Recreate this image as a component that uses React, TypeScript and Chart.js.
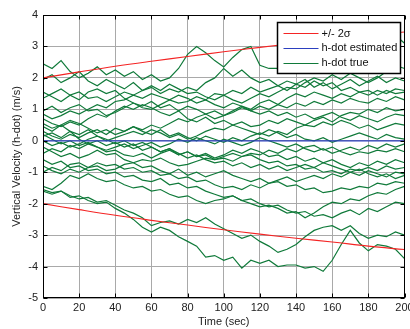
import React, { useEffect, useRef } from "react";
import { Chart, registerables } from "chart.js";

Chart.register(...registerables);

// ---- data ----
const TIME = [0,5,10,15,20,25,30,35,40,45,50,55,60,65,70,75,80,85,90,95,100,105,110,115,120,125,130,135,140,145,150,155,160,165,170,175,180,185,190,195,200];
const SIGMA_TIME = [0,20,40,60,80,100,120,140,160,180,200];
const PLUS_2SIGMA = [2.0,2.19,2.37,2.53,2.68,2.83,2.97,3.1,3.22,3.35,3.46];
const MINUS_2SIGMA = [-2.0,-2.19,-2.37,-2.53,-2.68,-2.83,-2.97,-3.1,-3.22,-3.35,-3.46];
const HDOT_ESTIMATED = [0,0,0,0,0,0,0,0,0,0,0];

const TRUE_A = [2.45,2.3,2.55,2.2,2.0,2.15,2.35,2.1,2.25,2.05,2.2,1.95,2.1,1.9,2.0,2.3,2.75,3.0,2.8,2.55,2.35,2.65,2.9,3.0,2.4,2.3,2.3,2.6,2.75,2.6,2.9,2.8,3.0,3.1,2.95,3.15,3.05,3.2,3.3,3.35,3.1];
const TRUE_B = [1.95,2.1,1.85,2.0,2.2,1.9,1.75,1.95,1.8,1.65,1.85,1.6,1.7,1.5,1.65,1.55,1.7,1.6,1.85,2.0,2.3,2.05,2.25,2.0,1.85,1.95,1.75,1.9,1.8,1.95,1.7,1.85,1.65,1.8,1.95,1.75,1.9,2.05,1.85,2.0,1.9];
const TRUE_C = [1.55,1.4,1.25,1.45,1.3,1.55,1.65,1.5,1.6,1.35,1.2,1.05,1.0,1.15,1.3,1.2,1.25,1.4,1.3,1.5,1.45,1.6,1.5,1.7,1.55,1.65,1.75,1.6,1.8,1.7,1.9,1.75,1.85,1.6,1.7,1.55,1.6,1.45,1.6,1.5,1.55];
const TRUE_D = [1.35,1.5,1.65,1.45,1.55,1.35,1.4,1.25,1.4,1.55,1.45,1.6,1.75,1.6,1.8,1.65,1.5,1.55,1.4,1.3,1.45,1.3,1.2,1.35,1.5,1.4,1.55,1.7,1.65,1.85,2.0,1.9,2.1,1.95,2.15,2.0,1.85,2.0,2.2,2.4,2.3];
const TRUE_E = [0.95,1.1,0.9,1.05,1.15,0.95,1.0,0.8,0.9,1.05,1.2,1.1,1.25,1.05,1.15,0.95,1.1,1.0,0.85,0.95,0.8,0.9,1.05,0.95,1.1,1.0,1.15,1.05,1.2,1.1,1.25,1.15,1.3,1.2,1.35,1.25,1.2,1.35,1.25,1.4,1.3];
const TRUE_F = [0.7,0.55,0.45,0.6,0.5,0.7,0.85,0.75,0.95,1.1,1.0,1.15,1.05,0.9,0.8,0.95,0.7,0.6,0.75,0.55,0.65,0.5,0.6,0.45,0.5,0.65,0.55,0.7,0.6,0.5,0.65,0.75,0.6,0.8,0.9,0.85,1.0,0.9,1.05,0.95,1.0];
const TRUE_G = [0.45,0.3,0.5,0.65,0.55,0.4,0.25,0.35,0.2,0.3,0.45,0.35,0.5,0.4,0.55,0.7,0.6,0.75,0.85,0.7,0.8,0.95,1.1,1.0,1.2,1.3,1.15,1.35,1.5,1.4,1.55,1.45,1.35,1.5,1.4,1.55,1.45,1.6,1.5,1.65,1.6];
const TRUE_H = [0.3,0.15,0.05,0.2,0.1,0.25,0.35,0.2,0.4,0.3,0.45,0.3,0.2,0.35,0.15,0.25,0.1,0.0,0.15,0.05,-0.05,0.1,0.0,0.15,0.25,0.15,0.3,0.2,0.4,0.5,0.45,0.6,0.5,0.65,0.55,0.4,0.5,0.35,0.45,0.55,0.5];
const TRUE_I = [0.15,0.25,0.1,0.3,0.05,-0.1,0.0,-0.15,-0.05,-0.2,-0.1,-0.3,-0.2,-0.35,-0.25,-0.45,-0.35,-0.5,-0.4,-0.55,-0.45,-0.3,-0.4,-0.25,-0.35,-0.5,-0.45,-0.6,-0.5,-0.65,-0.55,-0.7,-0.6,-0.75,-0.85,-0.7,-0.8,-0.65,-0.75,-0.6,-0.7];
const TRUE_J = [0.0,-0.15,-0.05,-0.2,-0.1,0.05,0.15,0.0,0.1,0.2,0.3,0.2,0.35,0.25,0.1,0.2,0.05,0.15,0.3,0.4,0.35,0.5,0.4,0.3,0.2,0.35,0.25,0.1,0.2,0.05,0.0,0.1,-0.05,0.05,0.15,0.25,0.15,0.05,0.2,0.1,0.05];
const TRUE_K = [-0.2,-0.35,-0.5,-0.4,-0.55,-0.45,-0.3,-0.45,-0.4,-0.6,-0.7,-0.85,-0.8,-0.95,-1.05,-0.9,-1.1,-1.0,-1.15,-1.05,-0.95,-1.1,-1.2,-1.3,-1.2,-1.35,-1.25,-1.15,-1.3,-1.2,-1.1,-1.2,-1.05,-1.15,-1.0,-1.1,-0.95,-1.05,-1.15,-1.0,-1.05];
const TRUE_L = [-0.4,-0.25,-0.35,-0.15,-0.25,-0.1,-0.2,-0.35,-0.3,-0.45,-0.5,-0.4,-0.55,-0.4,-0.3,-0.45,-0.35,-0.5,-0.45,-0.6,-0.55,-0.65,-0.5,-0.4,-0.45,-0.3,-0.4,-0.25,-0.35,-0.2,-0.15,-0.3,-0.2,-0.35,-0.45,-0.35,-0.4,-0.3,-0.35,-0.25,-0.35];
const TRUE_M = [-0.6,-0.75,-0.65,-0.85,-0.8,-0.95,-0.9,-1.05,-1.0,-1.15,-1.1,-1.25,-1.3,-1.2,-1.4,-1.35,-1.5,-1.45,-1.6,-1.7,-1.8,-1.75,-1.9,-1.85,-2.0,-2.1,-2.05,-2.2,-2.3,-2.25,-2.4,-2.35,-2.45,-2.3,-2.2,-2.35,-2.15,-2.25,-2.1,-1.95,-2.0];
const TRUE_N = [-0.8,-0.95,-1.05,-0.9,-1.0,-0.85,-0.7,-0.8,-0.75,-0.9,-0.85,-1.0,-0.95,-1.1,-1.05,-1.2,-1.15,-1.3,-1.25,-1.4,-1.5,-1.45,-1.55,-1.4,-1.5,-1.35,-1.3,-1.45,-1.4,-1.55,-1.5,-1.65,-1.6,-1.5,-1.55,-1.45,-1.5,-1.35,-1.4,-1.3,-1.35];
const TRUE_O = [-1.0,-0.85,-0.95,-0.75,-0.7,-0.85,-0.8,-0.95,-0.9,-0.75,-0.7,-0.6,-0.65,-0.55,-0.7,-0.8,-0.75,-0.65,-0.55,-0.6,-0.5,-0.4,-0.5,-0.45,-0.6,-0.7,-0.65,-0.8,-0.75,-0.9,-0.85,-1.0,-0.95,-1.05,-0.9,-0.95,-0.85,-0.95,-0.8,-0.9,-0.85];
const TRUE_P = [-1.55,-1.65,-1.6,-1.75,-1.85,-1.8,-1.95,-1.9,-2.05,-2.2,-2.3,-2.45,-2.7,-2.6,-2.55,-2.65,-2.5,-2.6,-2.45,-2.65,-2.8,-2.95,-3.1,-3.0,-3.2,-3.35,-3.55,-3.45,-3.3,-3.05,-2.85,-2.75,-2.7,-2.85,-2.7,-2.95,-3.1,-3.0,-3.05,-2.9,-3.0];
const TRUE_Q = [-1.6,-1.7,-1.6,-1.8,-1.75,-1.9,-2.0,-1.95,-2.15,-2.3,-2.5,-2.75,-2.9,-2.75,-2.85,-3.05,-3.2,-3.35,-3.7,-3.65,-3.8,-3.7,-4.05,-3.8,-3.9,-3.8,-4.0,-3.95,-3.95,-4.05,-4.0,-4.15,-3.8,-3.3,-2.85,-3.25,-3.5,-3.3,-3.35,-3.45,-3.75];
const TRUE_R = [-1.45,-1.55,-1.35,-1.1,-1.2,-1.05,-1.2,-1.3,-1.25,-1.4,-1.5,-1.45,-1.6,-1.55,-1.7,-1.8,-1.75,-1.9,-2.0,-1.9,-1.85,-1.75,-1.9,-2.0,-2.1,-2.05,-2.15,-2.3,-2.25,-2.45,-2.3,-2.1,-1.95,-2.0,-1.85,-1.9,-1.75,-1.65,-1.7,-1.55,-1.45];
const TRUE_S = [0.85,0.7,0.8,0.95,0.85,1.0,1.15,1.05,1.25,1.3,1.45,1.35,1.5,1.4,1.3,1.45,1.35,1.2,1.3,1.15,1.05,1.2,1.1,0.95,0.85,0.95,0.8,0.9,0.75,0.85,0.7,0.8,0.9,0.75,0.65,0.8,0.7,0.6,0.75,0.85,0.8];
const TRUE_T = [0.2,0.05,-0.1,0.0,-0.15,-0.05,-0.2,-0.3,-0.2,-0.1,-0.25,-0.15,-0.05,-0.2,-0.1,0.05,-0.05,0.1,0.0,-0.1,0.05,-0.05,-0.15,-0.05,0.1,0.0,-0.1,-0.2,-0.1,-0.25,-0.35,-0.25,-0.4,-0.3,-0.2,-0.3,-0.15,-0.25,-0.1,-0.2,-0.1];
const TRUE_U = [0.55,0.4,0.5,0.3,0.2,0.35,0.15,0.05,-0.1,0.0,-0.15,-0.05,-0.2,-0.35,-0.25,-0.4,-0.55,-0.45,-0.6,-0.7,-0.65,-0.8,-0.7,-0.85,-0.75,-0.9,-0.8,-0.95,-0.85,-0.75,-0.85,-0.7,-0.8,-0.9,-1.0,-0.9,-1.05,-1.15,-1.05,-1.2,-1.1];

const TRUE_RUNS = [TRUE_A, TRUE_B, TRUE_C, TRUE_D, TRUE_E, TRUE_F, TRUE_G, TRUE_H, TRUE_I, TRUE_J, TRUE_K, TRUE_L, TRUE_M, TRUE_N, TRUE_O, TRUE_P, TRUE_Q, TRUE_R, TRUE_S, TRUE_T, TRUE_U];

const LABEL_SIGMA = "+/- 2\u03c3";
const LABEL_EST = "h-dot estimated";
const LABEL_TRUE = "h-dot true";
const X_TITLE = "Time (sec)";
const Y_TITLE = "Vertical Velocity (h-dot) (m/s)";

const RED = "#f42424";
const BLUE = "#2b3fbf";
const GREEN = "#107a3a";
const FONT = "'Liberation Sans', Arial, Helvetica, sans-serif";

const pair = (xs: number[], ys: number[]) => xs.map((x, i) => ({ x, y: ys[i] }));

const framePlugin = {
  id: "matlabFrame",
  afterDraw(chart: any) {
    const { ctx, chartArea: a, scales } = chart;
    const L = Math.round(a.left) + 0.5;
    const R = Math.round(a.right) - 0.5;
    const T = Math.round(a.top) + 0.5;
    const B = Math.round(a.bottom) - 0.5;
    ctx.save();
    ctx.strokeStyle = "#000";
    ctx.lineWidth = 1;
    ctx.strokeRect(L, T, R - L, B - T);
    ctx.beginPath();
    scales.x.ticks.forEach((t: any) => {
      const px = Math.round(scales.x.getPixelForValue(t.value)) + 0.5;
      ctx.moveTo(px, B); ctx.lineTo(px, B - 4);
      ctx.moveTo(px, T); ctx.lineTo(px, T + 4);
    });
    scales.y.ticks.forEach((t: any) => {
      const py = Math.round(scales.y.getPixelForValue(t.value)) + 0.5;
      ctx.moveTo(L, py); ctx.lineTo(L + 4, py);
      ctx.moveTo(R, py); ctx.lineTo(R - 4, py);
    });
    ctx.stroke();

    // legend box (inside axes, top right)
    const ds = chart.data.datasets;
    const items = [ds[0], ds[2], ds[3]];
    const bw = 123, bh = 51;
    const bx = Math.round(a.right) - 127.5;
    const by = Math.round(a.top) + 7.5;
    ctx.fillStyle = "#fff";
    ctx.fillRect(bx, by, bw, bh);
    ctx.lineWidth = 1.5;
    ctx.strokeStyle = "#000";
    ctx.strokeRect(bx, by, bw, bh);
    ctx.font = `11px ${FONT}`;
    ctx.textBaseline = "middle";
    ctx.textAlign = "left";
    items.forEach((d: any, i: number) => {
      const y = by + 10.5 + i * 14.8;
      ctx.strokeStyle = d.borderColor;
      ctx.lineWidth = 1;
      ctx.beginPath();
      ctx.moveTo(bx + 6, Math.round(y) + 0.5);
      ctx.lineTo(bx + 41, Math.round(y) + 0.5);
      ctx.stroke();
      ctx.fillStyle = "#111";
      ctx.fillText(d.legendText, bx + 44, y + 0.5);
    });
    ctx.restore();
  },
};

export default function App() {
  const ref = useRef<HTMLCanvasElement | null>(null);

  useEffect(() => {
    if (!ref.current) return;
    const datasets: any[] = [
      { label: LABEL_SIGMA, legendText: LABEL_SIGMA, data: pair(SIGMA_TIME, PLUS_2SIGMA), borderColor: RED, tension: 0.4, borderWidth: 1.1 },
      { label: LABEL_SIGMA + " low", legendText: LABEL_SIGMA, data: pair(SIGMA_TIME, MINUS_2SIGMA), borderColor: RED, tension: 0.4, borderWidth: 1.1 },
      { label: LABEL_EST, legendText: LABEL_EST, data: pair(SIGMA_TIME, HDOT_ESTIMATED), borderColor: BLUE, tension: 0, borderWidth: 1.2 },
      ...TRUE_RUNS.map((run, i) => ({
        label: LABEL_TRUE + " " + (i + 1),
        legendText: LABEL_TRUE,
        data: pair(TIME, run),
        borderColor: GREEN,
        tension: 0,
        borderWidth: 1.2,
      })),
    ].map((d) => ({
      ...d,
      pointRadius: 0,
      fill: false,
    }));

    const tickFont = { family: FONT, size: 11 };
    const chart = new Chart(ref.current, {
      type: "line",
      data: { datasets },
      plugins: [framePlugin],
      options: {
        animation: false,
        responsive: false,
        devicePixelRatio: 1,
        layout: { padding: { top: 15, right: 25.5, bottom: 0, left: 0 } },
        plugins: { legend: { display: false }, tooltip: { enabled: false } },
        scales: {
          x: {
            type: "linear",
            min: 0,
            max: 200,
            ticks: { stepSize: 20, font: tickFont, color: "#222", padding: 3, maxRotation: 0, autoSkip: false },
            grid: { color: "#a9a9a9", lineWidth: 1, drawTicks: false },
            border: { display: false },
            title: { display: true, text: X_TITLE, font: tickFont, color: "#222", padding: { top: 0, bottom: 0 } },
            afterFit: (s: any) => { s.height = 31; },
          },
          y: {
            type: "linear",
            min: -5,
            max: 4,
            ticks: { stepSize: 1, font: tickFont, color: "#222", padding: 5 },
            grid: { color: "#a9a9a9", lineWidth: 1, drawTicks: false },
            border: { display: false },
            title: { display: true, text: Y_TITLE, font: tickFont, color: "#222", padding: { top: 10, bottom: 0 } },
            afterFit: (s: any) => { s.width = 43; },
          },
        },
      } as any,
    });
    return () => chart.destroy();
  }, []);

  return (
    <div style={{ position: "fixed", left: 0, top: 0, width: 410, height: 329, overflow: "hidden", background: "#fff" }}>
      <canvas ref={ref} width={430} height={329} style={{ display: "block", width: 430, height: 329 }} />
    </div>
  );
}
